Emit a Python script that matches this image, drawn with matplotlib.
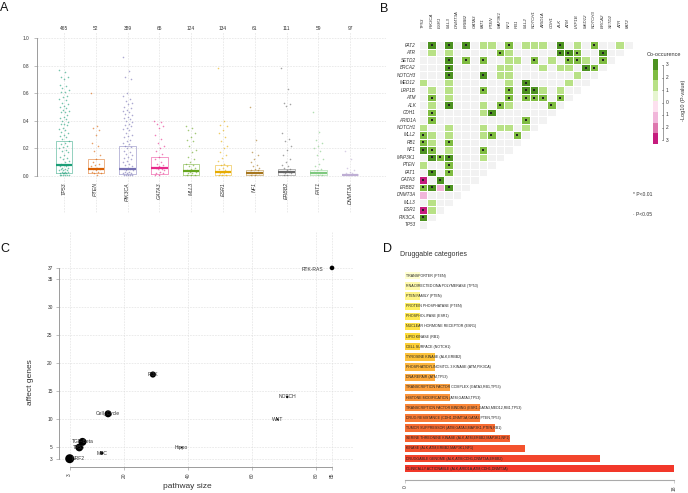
import numpy as np
import matplotlib
matplotlib.use('Agg')
import matplotlib.pyplot as plt
from matplotlib.colors import ListedColormap, BoundaryNorm, LinearSegmentedColormap
from matplotlib.patches import Rectangle

plt.rcParams['font.family'] = ['Liberation Sans', 'DejaVu Sans']

# ---------------- A: VAF per gene ----------------
vaf_genes = ['TP53', 'PTEN', 'PIK3CA', 'GATA3', 'MLL3', 'ESR1', 'NF1', 'ERBB2', 'FAT1', 'DNMT3A']
vaf_counts = [465, 52, 389, 65, 124, 134, 61, 111, 59, 97]
vaf_q1 = [0.020, 0.018, 0.012, 0.012, 0.010, 0.006, 0.010, 0.010, 0.010, 0.005]
vaf_med = [0.077, 0.053, 0.053, 0.055, 0.034, 0.027, 0.022, 0.027, 0.020, 0.010]
vaf_q3 = [0.254, 0.120, 0.220, 0.140, 0.087, 0.082, 0.043, 0.050, 0.043, 0.017]
vaf_points = {
    'TP53': [0.77, 0.75, 0.72, 0.72, 0.70, 0.66, 0.65, 0.64, 0.62, 0.61, 0.61, 0.58, 0.57, 0.56,
             0.55, 0.53, 0.52, 0.51, 0.50, 0.49, 0.48, 0.47, 0.46, 0.46, 0.44, 0.43, 0.42, 0.41,
             0.40, 0.39, 0.38, 0.38, 0.37, 0.35, 0.34, 0.33, 0.32, 0.31, 0.30, 0.29, 0.28, 0.27,
             0.25, 0.24, 0.23, 0.22, 0.21, 0.20, 0.19, 0.18, 0.17, 0.15, 0.14, 0.13, 0.12, 0.11,
             0.10, 0.09, 0.08, 0.08, 0.07, 0.07, 0.06, 0.06, 0.05, 0.05, 0.04, 0.04, 0.04, 0.03,
             0.03, 0.03, 0.02, 0.02, 0.02, 0.02, 0.01, 0.01, 0.01, 0.01, 0.01, 0.01],
    'PTEN': [0.60, 0.36, 0.35, 0.33, 0.30, 0.24, 0.22, 0.18, 0.15, 0.12, 0.10, 0.09, 0.08, 0.07,
             0.06, 0.05, 0.05, 0.04, 0.03, 0.03, 0.02, 0.02, 0.01],
    'PIK3CA': [0.86, 0.76, 0.72, 0.70, 0.60, 0.58, 0.56, 0.54, 0.53, 0.52, 0.50, 0.49, 0.48, 0.47,
               0.46, 0.45, 0.44, 0.43, 0.42, 0.41, 0.40, 0.39, 0.38, 0.37, 0.36, 0.35, 0.34, 0.33,
               0.31, 0.30, 0.29, 0.28, 0.26, 0.25, 0.24, 0.23, 0.22, 0.21, 0.20, 0.18, 0.17, 0.16,
               0.15, 0.14, 0.13, 0.12, 0.11, 0.10, 0.09, 0.08, 0.07, 0.06, 0.05, 0.05, 0.04, 0.04,
               0.03, 0.03, 0.02, 0.02, 0.02, 0.01, 0.01, 0.01, 0.01, 0.01],
    'GATA3': [0.40, 0.39, 0.38, 0.36, 0.35, 0.30, 0.27, 0.24, 0.22, 0.20, 0.18, 0.16, 0.14, 0.12,
              0.10, 0.09, 0.08, 0.07, 0.06, 0.05, 0.05, 0.04, 0.03, 0.02, 0.02, 0.01, 0.01],
    'MLL3': [0.36, 0.35, 0.33, 0.31, 0.28, 0.26, 0.25, 0.22, 0.19, 0.17, 0.14, 0.12, 0.10, 0.09,
             0.08, 0.07, 0.06, 0.05, 0.04, 0.04, 0.03, 0.03, 0.02, 0.02, 0.01, 0.01, 0.01],
    'ESR1': [0.78, 0.40, 0.37, 0.36, 0.33, 0.31, 0.28, 0.25, 0.22, 0.20, 0.17, 0.15, 0.13, 0.11,
             0.09, 0.08, 0.07, 0.06, 0.05, 0.04, 0.03, 0.03, 0.02, 0.02, 0.01, 0.01, 0.01],
    'NF1': [0.50, 0.26, 0.17, 0.15, 0.12, 0.10, 0.08, 0.07, 0.06, 0.05, 0.04, 0.04, 0.03, 0.03,
            0.02, 0.02, 0.02, 0.01, 0.01],
    'ERBB2': [0.78, 0.63, 0.53, 0.52, 0.51, 0.31, 0.27, 0.25, 0.22, 0.19, 0.15, 0.12, 0.10, 0.08,
              0.07, 0.06, 0.05, 0.04, 0.03, 0.03, 0.02, 0.02, 0.01, 0.01],
    'FAT1': [0.46, 0.32, 0.26, 0.24, 0.22, 0.20, 0.18, 0.15, 0.12, 0.09, 0.07, 0.05, 0.04, 0.03,
             0.02, 0.02, 0.01, 0.01],
    'DNMT3A': [0.18, 0.12, 0.06, 0.04, 0.03, 0.02, 0.02, 0.01, 0.01, 0.01],
}
vaf_colors = ['#1B9E77', '#D95F02', '#7570B3', '#E7298A', '#66A61E', '#E6AB02', '#A6761D',
              '#666666', '#7FC97F', '#BEAED4']

# ---------------- B: somatic interactions ----------------
co_genes = ['TP53', 'PIK3CA', 'ESR1', 'MLL3', 'DNMT3A', 'ERBB2', 'GATA3', 'FAT1', 'PTEN', 'MAP3K1',
            'NF1', 'RB1', 'MLL2', 'NOTCH1', 'ARID1A', 'CDH1', 'ALK', 'ATM', 'LRP1B', 'MED12',
            'NOTCH3', 'BRCA2', 'SETD2', 'ATR', 'FAT2']
# (row gene, column gene, signed -log10 p) ; positive = co-occurrence, negative = exclusive
co_pairs = [
    ('FAT2', 'PIK3CA', 3), ('FAT2', 'MLL3', 3), ('FAT2', 'ERBB2', 3), ('FAT2', 'FAT1', 1),
    ('FAT2', 'PTEN', 1), ('FAT2', 'NF1', 2), ('FAT2', 'MLL2', 1), ('FAT2', 'NOTCH1', 1),
    ('FAT2', 'ARID1A', 1), ('FAT2', 'ALK', 3), ('FAT2', 'LRP1B', 1), ('FAT2', 'NOTCH3', 2),
    ('FAT2', 'ATR', 1),
    ('ATR', 'PIK3CA', 1), ('ATR', 'MLL3', 1), ('ATR', 'MAP3K1', 2), ('ATR', 'NF1', 1),
    ('ATR', 'ALK', 3), ('ATR', 'ATM', 3), ('ATR', 'LRP1B', 2), ('ATR', 'BRCA2', 3),
    ('SETD2', 'MLL3', 3), ('SETD2', 'ERBB2', 2), ('SETD2', 'FAT1', 2), ('SETD2', 'NF1', 1),
    ('SETD2', 'RB1', 1), ('SETD2', 'NOTCH1', 2), ('SETD2', 'CDH1', 1), ('SETD2', 'ATM', 2),
    ('SETD2', 'LRP1B', 2), ('SETD2', 'MED12', 1), ('SETD2', 'BRCA2', 2),
    ('BRCA2', 'MLL3', 3), ('BRCA2', 'MAP3K1', 1), ('BRCA2', 'NF1', 1), ('BRCA2', 'ARID1A', 1),
    ('BRCA2', 'ALK', 1), ('BRCA2', 'ATM', 1), ('BRCA2', 'MED12', 3), ('BRCA2', 'NOTCH3', 2),
    ('NOTCH3', 'MLL3', 3), ('NOTCH3', 'FAT1', 3), ('NOTCH3', 'MAP3K1', 1), ('NOTCH3', 'NF1', 1),
    ('NOTCH3', 'LRP1B', 1),
    ('MED12', 'TP53', 1), ('MED12', 'MLL3', 1), ('MED12', 'NF1', 1), ('MED12', 'MLL2', 3),
    ('MED12', 'ATM', 1),
    ('LRP1B', 'PIK3CA', 1), ('LRP1B', 'MLL3', 1), ('LRP1B', 'FAT1', 2), ('LRP1B', 'NF1', 2),
    ('LRP1B', 'MLL2', 3), ('LRP1B', 'NOTCH1', 3), ('LRP1B', 'ARID1A', 1), ('LRP1B', 'ALK', 1),
    ('ATM', 'PIK3CA', 2), ('ATM', 'MLL3', 1), ('ATM', 'NF1', 2), ('ATM', 'MLL2', 2),
    ('ATM', 'NOTCH1', 2), ('ATM', 'ARID1A', 2), ('ATM', 'ALK', 2),
    ('ALK', 'PIK3CA', 1), ('ALK', 'MLL3', 3), ('ALK', 'FAT1', 1), ('ALK', 'MAP3K1', 2),
    ('ALK', 'NF1', 1), ('ALK', 'CDH1', 2),
    ('CDH1', 'PIK3CA', 2), ('CDH1', 'FAT1', 1), ('CDH1', 'PTEN', 3),
    ('ARID1A', 'PIK3CA', 2), ('ARID1A', 'MLL2', 2),
    ('NOTCH1', 'TP53', 1), ('NOTCH1', 'MLL3', 1), ('NOTCH1', 'FAT1', 1), ('NOTCH1', 'MAP3K1', 1),
    ('NOTCH1', 'NF1', 1), ('NOTCH1', 'MLL2', 1),
    ('MLL2', 'TP53', 2), ('MLL2', 'PIK3CA', 1), ('MLL2', 'MLL3', 1), ('MLL2', 'FAT1', 1),
    ('MLL2', 'PTEN', 2), ('MLL2', 'RB1', 2),
    ('RB1', 'TP53', 2), ('RB1', 'PIK3CA', 1), ('RB1', 'MLL3', 2),
    ('NF1', 'TP53', 3), ('NF1', 'PIK3CA', 2), ('NF1', 'MLL3', 1), ('NF1', 'FAT1', 2),
    ('MAP3K1', 'PIK3CA', 3), ('MAP3K1', 'ESR1', 2), ('MAP3K1', 'MLL3', 3), ('MAP3K1', 'FAT1', 1),
    ('PTEN', 'TP53', 1), ('PTEN', 'MLL3', 2),
    ('FAT1', 'PIK3CA', 3), ('FAT1', 'MLL3', 2),
    ('GATA3', 'TP53', -3), ('GATA3', 'ESR1', 3),
    ('ERBB2', 'TP53', 2), ('ERBB2', 'PIK3CA', 3), ('ERBB2', 'ESR1', -1), ('ERBB2', 'MLL3', 3),
    ('DNMT3A', 'TP53', -1),
    ('MLL3', 'PIK3CA', 1),
    ('ESR1', 'TP53', -3), ('ESR1', 'PIK3CA', 1),
    ('PIK3CA', 'TP53', 3),
]
co_levels = [3, 2, 1, 0, 0, 1, 2, 3]
co_legend_colors = ['#4D9221', '#7FBC41', '#B8E186', '#E6F5D0', '#FDE0EF', '#F1B6DA', '#DE77AE', '#C51B7D']

# ---------------- C: oncogenic pathways ----------------
pw_names = ['RTK-RAS', 'NOTCH', 'WNT', 'Hippo', 'PI3K', 'Cell_Cycle', 'MYC', 'TGF-Beta', 'TP53', 'NRF2']
pw_size = [85, 71, 68, 38, 29, 15, 13, 7, 6, 3]
pw_affected = [37, 14, 10, 5, 18, 11, 4, 6, 5, 3]

# ---------------- D: druggable categories ----------------
drug_cats = ['TRANSPORTER (PTEN)', 'RNA DIRECTED DNA POLYMERASE (TP53)', 'PTEN FAMILY (PTEN)',
             'PROTEIN PHOSPHATASE (PTEN)', 'PHOSPHOLIPASE (ESR1)', 'NUCLEAR HORMONE RECEPTOR (ESR1)',
             'LIPID KINASE (RB1)', 'CELL SURFACE (NOTCH1)', 'TYROSINE KINASE (ALK,ERBB2)',
             'PHOSPHATIDYLINOSITOL 3 KINASE (ATM,PIK3CA)', 'DNA REPAIR (ATM,TP53)',
             'TRANSCRIPTION FACTOR COMPLEX (GATA3,RB1,TP53)', 'HISTONE MODIFICATION (ATM,GATA3,TP53)',
             'TRANSCRIPTION FACTOR BINDING (ESR1,GATA3,MED12,RB1,TP53)',
             'DRUG RESISTANCE (CDH1,DNMT3A,GATA3,PTEN,TP53)',
             'TUMOR SUPPRESSOR (ATM,GATA3,MAP3K1,PTEN,RB1)',
             'SERINE THREONINE KINASE (ALK,ATM,ERBB2,MAP3K1,NF1)',
             'KINASE (ALK,ATM,ERBB2,MAP3K1,NF1)',
             'DRUGGABLE GENOME (ALK,ATM,CDH1,DNMT3A,ERBB2)',
             'CLINICALLY ACTIONABLE (ALK,ARID1A,ATM,CDH1,DNMT3A)']
drug_counts = [1, 1, 1, 1, 1, 1, 1, 1, 2, 2, 2, 3, 3, 5, 5, 6, 7, 8, 13, 18]

# ---------------- figure ----------------
W, H = 688, 493
fig = plt.figure(figsize=(W / 100, H / 100), dpi=100)


def px_axes(x0, y0, x1, y1):
    return fig.add_axes([x0 / W, 1 - y1 / H, (x1 - x0) / W, (y1 - y0) / H])


grid_kw = dict(color='#dcdcdc', lw=0.4, ls=(0, (3, 2)))
axis_col = '#8c8c8c'
txt_col = '#333333'

# ----- A
axA = px_axes(37, 20, 386, 215)
axA.set_xlim(0.15, 11.13)
axA.set_ylim(-0.283, 1.13)
xs = np.arange(1, len(vaf_genes) + 1)
yt = [0, 0.2, 0.4, 0.6, 0.8, 1.0]
for y in yt:
    axA.axhline(y, zorder=0, **grid_kw)
axA.vlines(xs, -0.26, 1.04, zorder=0, **grid_kw)
for i, g in enumerate(vaf_genes):
    c = vaf_colors[i]
    v = np.array(vaf_points[g])
    offs = ((np.arange(len(v)) * 0.6180339887) % 1 - 0.5) * 0.32
    axA.scatter(xs[i] + offs, v, s=1.3, color=c, alpha=0.6, lw=0, zorder=2)
    st = dict(med=vaf_med[i], q1=vaf_q1[i], q3=vaf_q3[i], whislo=vaf_q1[i], whishi=vaf_q3[i], fliers=[])
    axA.bxp([st], positions=[xs[i]], widths=0.52, showcaps=False, showfliers=False,
            boxprops=dict(color=c, lw=0.6, alpha=0.55), whiskerprops=dict(lw=0),
            medianprops=dict(color=c, lw=1.6), manage_ticks=False, zorder=3)
    axA.text(xs[i], 1.065, str(vaf_counts[i]), ha='center', va='center', fontsize=3.5, color=txt_col)
    axA.text(xs[i], -0.045, g, rotation=90, ha='center', va='top', fontsize=3.8,
             style='italic', color=txt_col)
for s in ['top', 'right', 'bottom']:
    axA.spines[s].set_visible(False)
axA.spines['left'].set_bounds(0, 1)
axA.spines['left'].set_color(axis_col)
axA.spines['left'].set_linewidth(0.6)
axA.set_yticks(yt)
axA.set_yticklabels(['%.1f' % y for y in yt])
axA.set_xticks([])
axA.tick_params(axis='y', labelsize=3.4, length=2.5, width=0.4, color=axis_col,
                labelcolor=txt_col, pad=3)
axA.patch.set_alpha(0)

# ----- B
axB = px_axes(418.7, 41.3, 632.6, 228.7)
n = len(co_genes)
M = np.full((n, n), np.nan)
for r in range(n):
    for c in range(n - r):
        M[r, c] = 0
for rg, cg, v in co_pairs:
    r = n - 1 - co_genes.index(rg)
    c = co_genes.index(cg)
    M[r, c] = v
cmapB = ListedColormap(['#C51B7D', '#DE77AE', '#F1B6DA', '#F2F2F2', '#B8E186', '#7FBC41', '#4D9221'])
normB = BoundaryNorm([-3.5, -2.5, -1.5, -0.5, 0.5, 1.5, 2.5, 3.5], cmapB.N)
edges = np.arange(0.5, n + 1.5)
axB.pcolormesh(edges, edges, np.ma.masked_invalid(M), cmap=cmapB, norm=normB,
               edgecolors='white', linewidth=0.5)
rr, cc = np.where(np.abs(np.nan_to_num(M)) >= 2)
axB.scatter(cc + 1, rr + 1, s=0.6, marker='s', color='#222222', lw=0)
axB.set_xlim(0.5, n + 0.5)
axB.set_ylim(n + 0.5, 0.5)
axB.axis('off')
for i, g in enumerate(co_genes):
    axB.text(i + 1, -1.28, g, rotation=90, ha='center', va='bottom', fontsize=3.2,
             style='italic', color=txt_col)
    axB.text(0.15, n - i, g, ha='right', va='center', fontsize=3.3, style='italic', color=txt_col)

# ----- C
axC = px_axes(59, 232, 353, 466.7)
axC.set_xlim(-0.345, 91.56)
axC.set_ylim(1.574, 43.4)
xtC = [3, 20, 40, 60, 80, 85]
ytC = [3, 5, 10, 15, 20, 25, 30, 35, 37]
axC.hlines(ytC, -0.345, 91.56, zorder=0, **grid_kw)
axC.vlines(xtC, 1.574, 43.4, zorder=0, **grid_kw)
frac = np.array(pw_affected) / np.array(pw_size)
axC.scatter(pw_size, pw_affected, s=42 * frac ** 1.6, color='black', lw=0, zorder=3)
lab_off = {'RTK-RAS': (-14, -1), 'NRF2': (6, 0.5)}
for name, x, y in zip(pw_names, pw_size, pw_affected):
    dx, dy = lab_off.get(name, (0, 0))
    axC.annotate(name, (x, y), xytext=(dx, dy), textcoords='offset points', ha='center',
                 va='center', fontsize=3.6, color=txt_col, zorder=4)
for s in ['top', 'right']:
    axC.spines[s].set_visible(False)
axC.spines['left'].set_bounds(3, 37)
axC.spines['bottom'].set_bounds(3, 85)
for s in ['left', 'bottom']:
    axC.spines[s].set_color(axis_col)
    axC.spines[s].set_linewidth(0.6)
axC.set_xticks(xtC)
axC.set_xticklabels([str(v) for v in xtC], rotation=90)
axC.set_yticks(ytC)
axC.tick_params(labelsize=3.5, length=2.5, width=0.4, color=axis_col, labelcolor=txt_col, pad=2)
axC.patch.set_alpha(0)

# ----- D
axD = px_axes(400, 268, 680, 480)
rampD = LinearSegmentedColormap.from_list('d', ['#FFFFD0', '#FFEF5A', '#FDD835', '#FDB040',
                                               '#FB8C3A', '#F6622F', '#F2382A'])
colD = [rampD(i / (len(drug_cats) - 1)) for i in range(len(drug_cats))]
yD = np.arange(len(drug_cats))
axD.barh(yD, drug_counts, height=0.72, color=colD, lw=0)
for y, lab in zip(yD, drug_cats):
    axD.text(0.08, y, lab, ha='left', va='center', fontsize=2.6, color='#222222')
axD.set_xlim(-0.334, 18.38)
axD.set_ylim(20.11, -0.758)
for s in ['top', 'right', 'left']:
    axD.spines[s].set_visible(False)
axD.spines['bottom'].set_bounds(0, 18)
axD.spines['bottom'].set_color('#aaaaaa')
axD.spines['bottom'].set_linewidth(0.8)
axD.set_yticks([])
axD.set_xticks([0, 18])
axD.set_xticklabels(['0', '18'], rotation=90)
axD.tick_params(axis='x', labelsize=3.5, length=2, width=0.4, color='#aaaaaa',
                labelcolor=txt_col, pad=2)
axD.patch.set_alpha(0)

# ----- annotations (pixel coordinates)
ann = fig.add_axes([0, 0, 1, 1])
ann.set_xlim(0, W)
ann.set_ylim(H, 0)
ann.axis('off')
for lab, x, y in [('A', 0, 2), ('B', 380, 3), ('C', 0, 243), ('D', 383, 243)]:
    ann.text(x, y, lab, ha='left', va='top', fontsize=9, color='#111111')
ann.text(647, 54, 'Co-occurence', ha='left', va='center', fontsize=4, color=txt_col)
for i, col in enumerate(co_legend_colors):
    ann.add_patch(Rectangle((653, 59 + i * 10.6), 5, 10.6, color=col, lw=0))
lab_y = [65, 77.5, 90, 102.5, 115, 127.5, 140]
ann.plot([663, 663], [lab_y[0], lab_y[-1]], color='#555555', lw=0.4)
for y, v in zip(lab_y, [3, 2, 1, 0, 1, 2, 3]):
    ann.plot([661.5, 663], [y, y], color='#555555', lw=0.4)
    ann.text(666, y, str(v), ha='left', va='center', fontsize=3.5, color=txt_col)
ann.text(684, 100, '-Log10 (P-value)', rotation=90, ha='center', va='center', fontsize=4,
         color=txt_col)
ann.text(633, 195, '* P<0.01', ha='left', va='center', fontsize=3.6, color=txt_col)
ann.text(633, 214, '\u00b7 P<0.05', ha='left', va='center', fontsize=3.6, color=txt_col)
ann.text(31, 382, 'affect genes', rotation=90, ha='center', va='center', fontsize=6, color=txt_col)
ann.text(187, 487, 'pathway size', ha='center', va='center', fontsize=6, color=txt_col)
ann.text(400, 254, 'Druggable categories', ha='left', va='center', fontsize=5, color=txt_col)

fig.savefig('out.png', dpi=100)
